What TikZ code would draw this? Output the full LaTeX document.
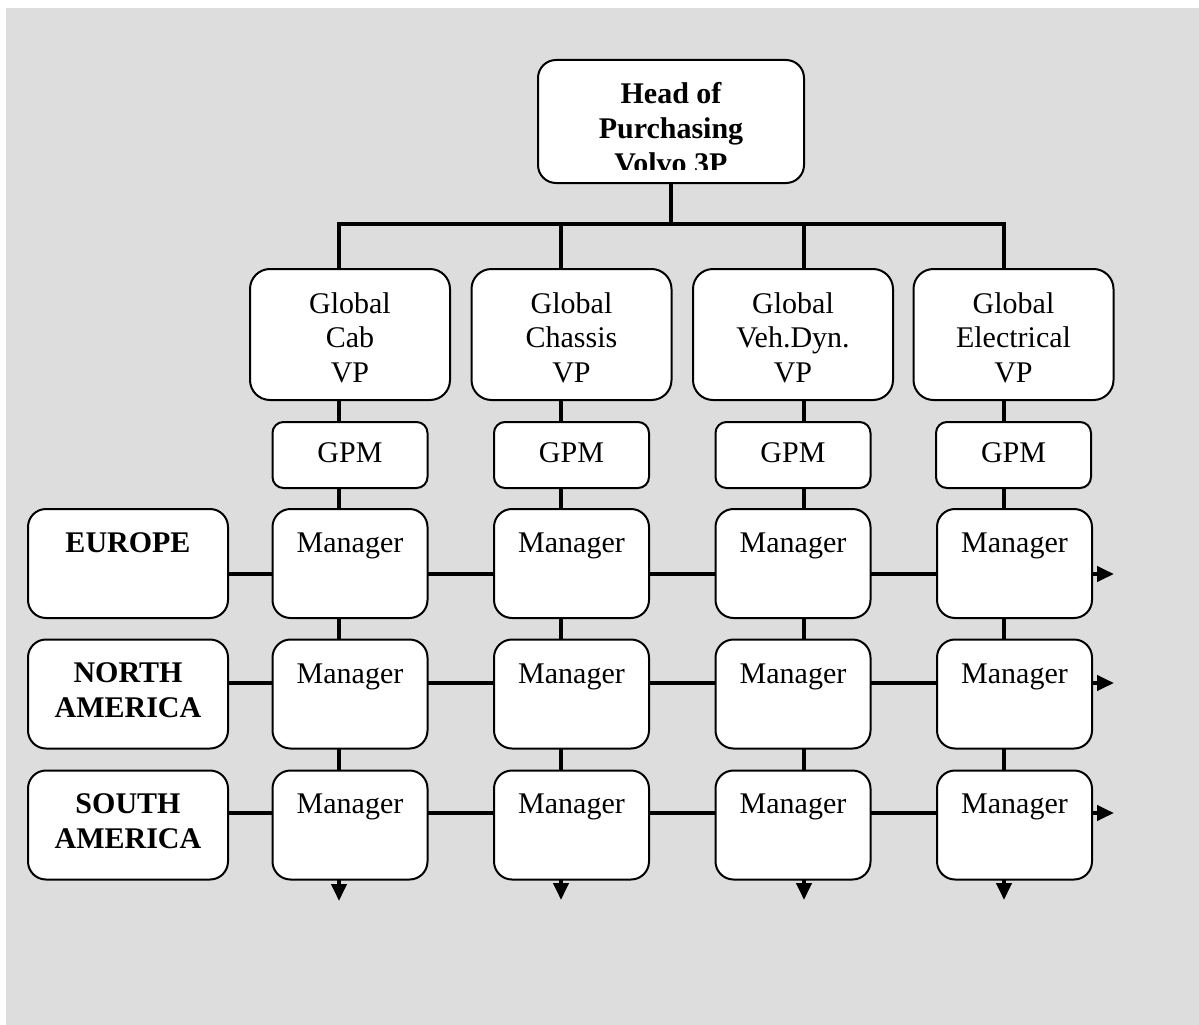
\documentclass[tikz,border=0pt]{standalone}
\usepackage{fontspec}
\setmainfont{Liberation Serif}
\usetikzlibrary{arrows.meta}
\pgfdeclarelayer{paper}
\pgfdeclarelayer{wires}
\pgfsetlayers{paper,wires,main}
\definecolor{panel}{RGB}{221,221,221}
\tikzset{
  box/.style={draw=black, line width=2pt, fill=white, rounded corners=18pt, inner sep=0pt},
  headbox/.style={box, minimum width=266pt, minimum height=123pt},
  vpbox/.style={box, minimum width=200pt, minimum height=131pt, rounded corners=20pt},
  gpmbox/.style={box, minimum width=155pt, minimum height=66pt, rounded corners=11pt},
  mgrbox/.style={box, minimum width=155pt, minimum height=109pt},
  regbox/.style={box, minimum width=200pt, minimum height=109pt},
  lbl/.style={font=\fontsize{30}{34.5}\selectfont, anchor=base, inner sep=0pt},
  blbl/.style={font=\fontsize{30}{34.5}\selectfont\bfseries, anchor=base, inner sep=0pt},
  wire/.style={line width=4pt, line cap=rect},
  arr/.style={line width=4pt, -{Triangle[length=17pt,width=15pt]}}
}
\begin{document}
\begin{tikzpicture}[x=1pt,y=-1pt]
\useasboundingbox (0,0) rectangle (1199,1025);
\begin{pgfonlayer}{paper}
  \fill[panel] (6,8) rectangle (1199,1025);
\end{pgfonlayer}

% top of the tree
\node[headbox] (head) at (671,121.5) {};
\begin{scope}
  \clip (head.north west) rectangle ([yshift=15pt]head.south east);
  \node[blbl] (hd1) at (671,103) {Head of};
  \node[blbl] (hd2) at (671,138) {Purchasing};
  \node[blbl] (hd3) at (671,173) {Volvo 3P};
\end{scope}

% global VP boxes
\node[vpbox] (vp1) at (350,334.5) {};
\node[vpbox] (vp2) at (571.5,334.5) {};
\node[vpbox] (vp3) at (793,334.5) {};
\node[vpbox] (vp4) at (1013.5,334.5) {};
\foreach \x/\mid in {350/Cab, 571.5/Chassis, 793/Veh.Dyn., 1013.5/Electrical}{
  \node[lbl] at (\x,313) {Global};
  \node[lbl] at (\x,347.5) {\mid};
  \node[lbl] at (\x,382) {VP};
}

% GPM boxes
\foreach \i/\x in {1/350, 2/571.5, 3/793, 4/1013.5}{
  \node[gpmbox] (gpm\i) at (\x,455) {};
  \node[lbl] at (\x,462) {GPM};
}

% manager matrix
\foreach \j/\y/\b in {1/563.5/552, 2/694/683, 3/825/813}{
  \foreach \i/\x in {1/350, 2/571.5, 3/793, 4/1014.5}{
    \node[mgrbox] (m\j\i) at (\x,\y) {};
    \node[lbl] at (\x,\b) {Manager};
  }
  \node[regbox] (reg\j) at (128,\y) {};
}
\node[blbl] at (128,552) {EUROPE};
\node[blbl] at (128,682) {NORTH};
\node[blbl] at (128,717) {AMERICA};
\node[blbl] at (128,813) {SOUTH};
\node[blbl] at (128,848) {AMERICA};

% column and row tracks
\coordinate (t1) at (339,224);
\coordinate (t2) at (561,224);
\coordinate (t3) at (804,224);
\coordinate (t4) at (1004,224);
\coordinate (b1) at (339,901);
\coordinate (b2) at (561,900);
\coordinate (b3) at (804,900);
\coordinate (b4) at (1004,900);
\coordinate (e1) at (1114,574);
\coordinate (e2) at (1114,683);
\coordinate (e3) at (1114,813);

\begin{pgfonlayer}{wires}
  \draw[wire] (head.south) -- (head.south |- t1);
  \draw[wire] (t1) -- (t4);
  \foreach \i in {1,...,4}{
    \draw[arr] (t\i) -- (b\i);
  }
  \foreach \j in {1,2,3}{
    \draw[arr] (reg\j.east |- e\j) -- (e\j);
  }
\end{pgfonlayer}
\end{tikzpicture}
\end{document}
